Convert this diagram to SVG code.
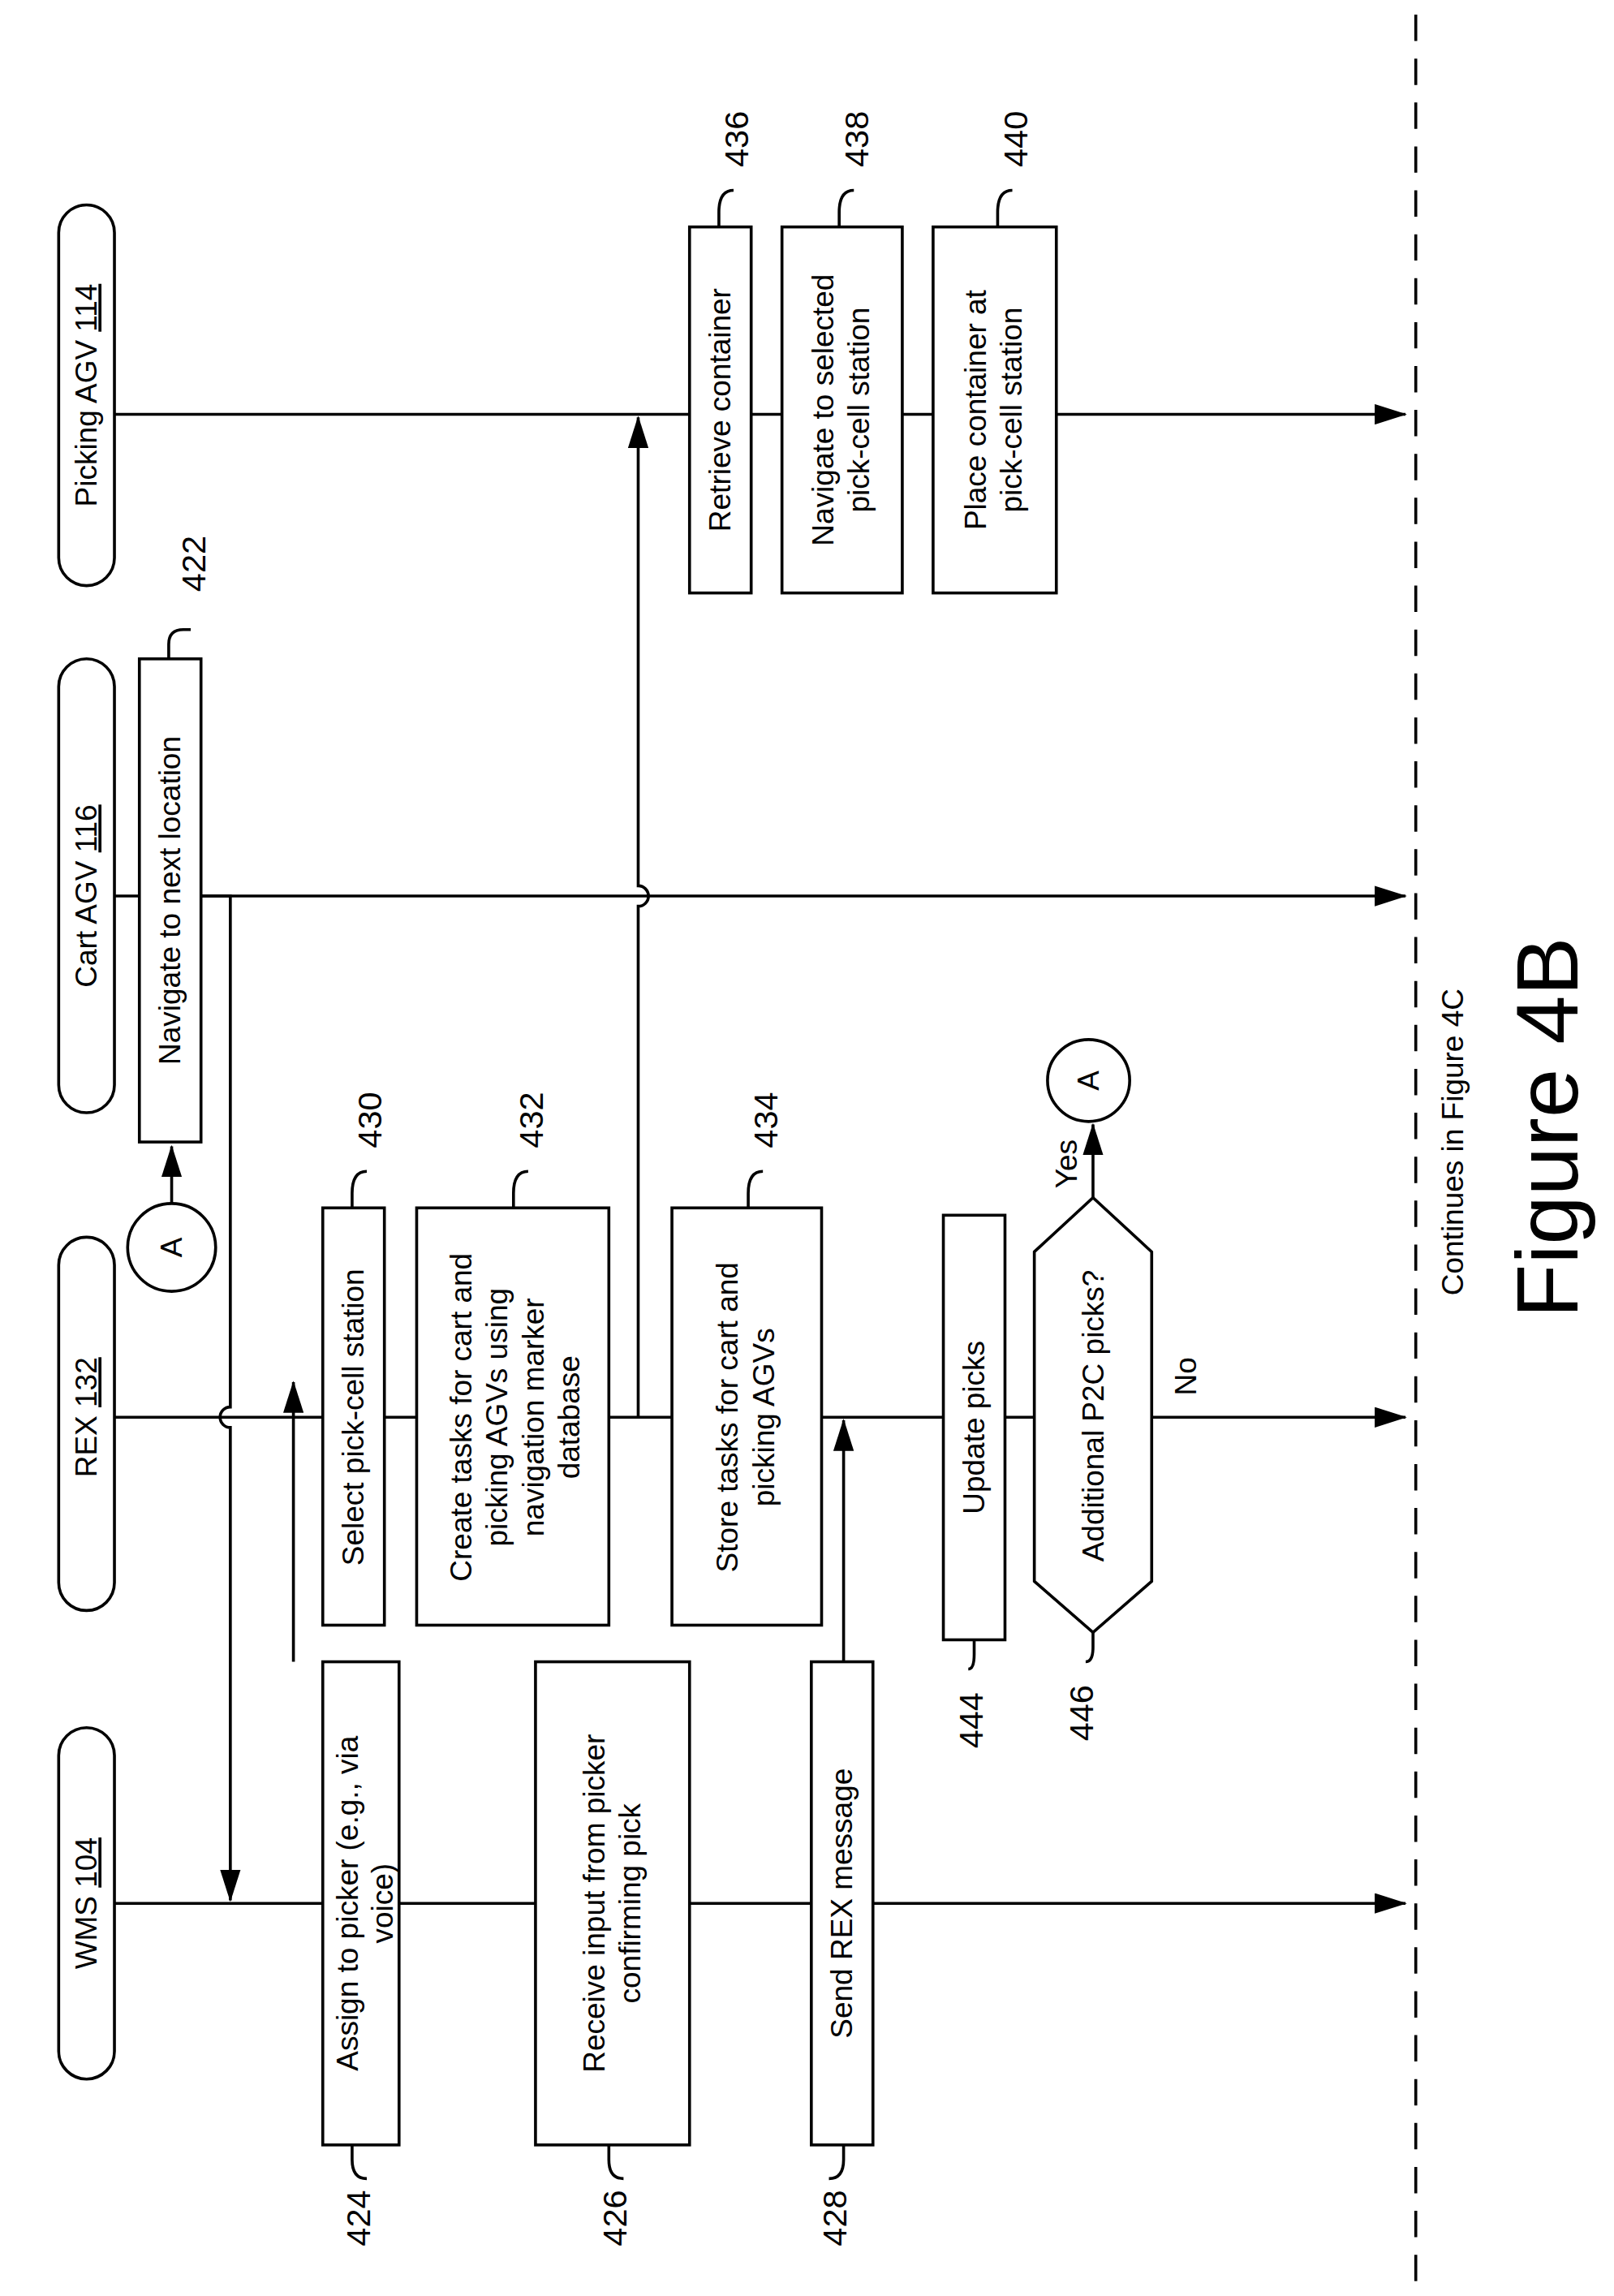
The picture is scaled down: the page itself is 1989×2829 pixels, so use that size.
<svg xmlns="http://www.w3.org/2000/svg" width="1989" height="2829" viewBox="0 0 1989 2829">
<style>
.b{fill:#fff;stroke:#000;stroke-width:2}
.l{fill:none;stroke:#000;stroke-width:2}
.t{font-family:"Liberation Sans",Arial,sans-serif;font-size:20.5px;text-anchor:middle}
.n{font-family:"Liberation Sans",Arial,sans-serif;font-size:23px;text-anchor:middle}
</style>
<defs><marker id="ar2" markerWidth="22" markerHeight="14" refX="21" refY="7" orient="auto" markerUnits="userSpaceOnUse"><path d="M0,0L22,7L0,14z"/></marker></defs>
<rect width="1989" height="2829" fill="#fff"/>
<g transform="scale(1.808,1.804)">
<g id="connectors">
<path class="l" d="M78,1300H958" marker-end="url(#ar2)"/>
<path class="l" d="M78,968H958" marker-end="url(#ar2)"/>
<path class="l" d="M78,612H958" marker-end="url(#ar2)"/>
<path class="l" d="M78,283H958" marker-end="url(#ar2)"/>
<path class="l" d="M137,612H157V961A7,7 0 0 0 157,975V1298" marker-end="url(#ar2)"/>
<path class="l" d="M200,1135V944" marker-end="url(#ar2)"/>
<path class="l" d="M435,968V619A7,7 0 0 0 435,605V285" marker-end="url(#ar2)"/>
<path class="l" d="M575,1135V970" marker-end="url(#ar2)"/>
<path class="l" d="M117,822V783" marker-end="url(#ar2)"/>
<path class="l" d="M745,818V768" marker-end="url(#ar2)"/>
<path class="l" d="M965,10V1560" stroke-dasharray="18,12"/>
<path class="l" d="M115,450V440Q115,430 125,430H130"/>
<path class="l" d="M240,825V815Q240,800 250,800"/>
<path class="l" d="M350,825V815Q350,800 360,800"/>
<path class="l" d="M510,825V815Q510,800 520,800"/>
<path class="l" d="M490,155V145Q490,130 500,130"/>
<path class="l" d="M572,155V145Q572,130 582,130"/>
<path class="l" d="M680,155V145Q680,130 690,130"/>
<path class="l" d="M240,1465V1475Q240,1488 250,1488"/>
<path class="l" d="M415,1465V1475Q415,1488 425,1488"/>
<path class="l" d="M575,1465V1475Q575,1488 565,1488"/>
<path class="l" d="M664,1120V1130Q664,1140 660,1140"/>
<path class="l" d="M745,1115V1125Q745,1135 740,1135"/>
</g>
<g id="lanes">
<rect class="b" x="40" y="1180" width="38" height="240" rx="19"/><text class="t" transform="translate(66,1300) rotate(-90)">WMS <tspan text-decoration="underline">104</tspan></text>
<rect class="b" x="40" y="845" width="38" height="255" rx="19"/><text class="t" transform="translate(66,968) rotate(-90)">REX <tspan text-decoration="underline">132</tspan></text>
<rect class="b" x="40" y="450" width="38" height="310" rx="19"/><text class="t" transform="translate(66,612) rotate(-90)">Cart AGV <tspan text-decoration="underline">116</tspan></text>
<rect class="b" x="40" y="140" width="38" height="260" rx="19"/><text class="t" transform="translate(66,270) rotate(-90)">Picking AGV <tspan text-decoration="underline">114</tspan></text>
</g>
<g id="n422"><rect class="b" x="95" y="450" width="42" height="330"/><text class="t" transform="translate(123,615) rotate(-90)">Navigate to next location</text><text class="n" transform="translate(140,385) rotate(-90)">422</text></g>
<g id="nA1"><circle class="b" cx="117" cy="852" r="30"/><text class="t" transform="translate(124,852) rotate(-90)">A</text></g>
<g id="n424"><rect class="b" x="220" y="1135" width="52" height="330"/><text class="t" transform="translate(250,1300) rotate(-90)"><tspan x="0" dy="-0.3em">Assign to picker (e.g., via</tspan><tspan x="0" dy="1.15em">voice)</tspan></text><text class="n" transform="translate(252,1515) rotate(-90)">424</text></g>
<g id="n426"><rect class="b" x="365" y="1135" width="105" height="330"/><text class="t" transform="translate(418,1300) rotate(-90)"><tspan x="0" dy="-0.3em">Receive input from picker</tspan><tspan x="0" dy="1.2em">confirming pick</tspan></text><text class="n" transform="translate(427,1515) rotate(-90)">426</text></g>
<g id="n428"><rect class="b" x="553" y="1135" width="42" height="330"/><text class="t" transform="translate(581,1300) rotate(-90)">Send REX message</text><text class="n" transform="translate(577,1515) rotate(-90)">428</text></g>
<g id="n430"><rect class="b" x="220" y="825" width="42" height="285"/><text class="t" transform="translate(248,968) rotate(-90)">Select pick-cell station</text><text class="n" transform="translate(260,765) rotate(-90)">430</text></g>
<g id="n432"><rect class="b" x="284" y="825" width="131" height="285"/><text class="t" transform="translate(350,968) rotate(-90)"><tspan x="0" dy="-1.4em">Create tasks for cart and</tspan><tspan x="0" dy="1.2em">picking AGVs using</tspan><tspan x="0" dy="1.2em">navigation marker</tspan><tspan x="0" dy="1.2em">database</tspan></text><text class="n" transform="translate(370,765) rotate(-90)">432</text></g>
<g id="n434"><rect class="b" x="458" y="825" width="102" height="285"/><text class="t" transform="translate(509,968) rotate(-90)"><tspan x="0" dy="-0.3em">Store tasks for cart and</tspan><tspan x="0" dy="1.2em">picking AGVs</tspan></text><text class="n" transform="translate(530,765) rotate(-90)">434</text></g>
<g id="n444"><rect class="b" x="643" y="830" width="42" height="290"/><text class="t" transform="translate(671,975) rotate(-90)">Update picks</text><text class="n" transform="translate(670,1175) rotate(-90)">444</text></g>
<g id="n446"><polygon class="b" points="705,855 745,818 785,855 785,1080 745,1115 705,1080"/><text class="t" transform="translate(752,967) rotate(-90)">Additional P2C picks?</text><text class="n" transform="translate(745,1170) rotate(-90)">446</text><text class="t" transform="translate(734,795) rotate(-90)">Yes</text><text class="t" transform="translate(815,940) rotate(-90)">No</text></g>
<g id="nA2"><circle class="b" cx="742" cy="738" r="28"/><text class="t" transform="translate(749,738) rotate(-90)">A</text></g>
<g id="n436"><rect class="b" x="470" y="155" width="42" height="250"/><text class="t" transform="translate(498,280) rotate(-90)">Retrieve container</text><text class="n" transform="translate(510,95) rotate(-90)">436</text></g>
<g id="n438"><rect class="b" x="533" y="155" width="82" height="250"/><text class="t" transform="translate(574,280) rotate(-90)"><tspan x="0" dy="-0.3em">Navigate to selected</tspan><tspan x="0" dy="1.2em">pick-cell station</tspan></text><text class="n" transform="translate(592,95) rotate(-90)">438</text></g>
<g id="n440"><rect class="b" x="636" y="155" width="84" height="250"/><text class="t" transform="translate(678,280) rotate(-90)"><tspan x="0" dy="-0.3em">Place container at</tspan><tspan x="0" dy="1.2em">pick-cell station</tspan></text><text class="n" transform="translate(700,95) rotate(-90)">440</text></g>
<text class="t" transform="translate(997,780) rotate(-90)">Continues in Figure 4C</text>
<text class="t" style="font-size:60px" transform="translate(1075,770) rotate(-90)">Figure 4B</text>
</g>
</svg>
